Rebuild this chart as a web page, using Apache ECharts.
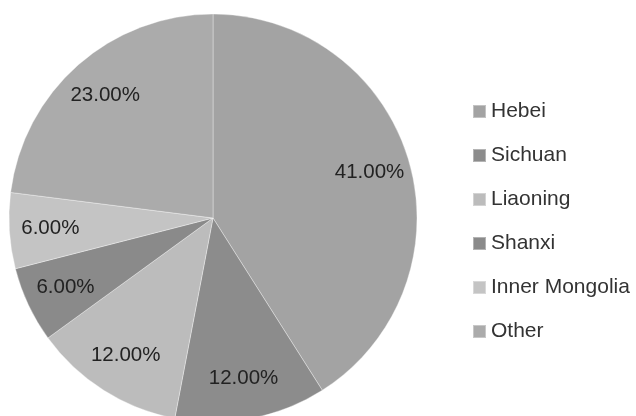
<!DOCTYPE html>
<html>
<head>
<meta charset="utf-8">
<script src="https://cdn.jsdelivr.net/npm/echarts@6/dist/echarts.min.js"></script>
<style>
  html, body { margin: 0; padding: 0; background: #ffffff; }
  #chart { width: 636px; height: 416px; }
</style>
</head>
<body>
<div id="chart"></div>
<script>
// Province shares (percent)
const provinces = ['Hebei', 'Sichuan', 'Liaoning', 'Shanxi', 'Inner Mongolia', 'Other'];
const shares = [41, 12, 12, 6, 6, 23];
const sliceColors = ['#a3a3a3', '#8c8c8c', '#bcbcbc', '#8a8a8a', '#c4c4c4', '#ababab'];

const pieData = provinces.map((name, i) => ({
  name: name,
  value: shares[i],
  itemStyle: { color: sliceColors[i] }
}));

const center = [213, 218];
const chart = echarts.init(document.getElementById('chart'), null, { renderer: 'canvas' });

chart.setOption({
  backgroundColor: '#ffffff',
  animation: false,
  color: sliceColors,
  legend: {
    data: provinces,
    orient: 'vertical',
    left: 467,
    top: 96,
    itemWidth: 13,
    itemHeight: 13,
    itemGap: 23,
    icon: 'rect',
    textStyle: {
      fontFamily: 'Liberation Sans, Arial, sans-serif',
      fontSize: 21,
      color: '#333333'
    }
  },
  series: [
    {
      // filled slices
      type: 'pie',
      center: center,
      radius: [0, 204],
      startAngle: 90,
      clockwise: true,
      label: { show: false },
      labelLine: { show: false },
      itemStyle: { borderColor: 'rgba(255,255,255,0.35)', borderWidth: 1 },
      data: pieData
    },
    {
      // percentage labels placed on a ring at ~0.78 of the radius
      type: 'pie',
      center: center,
      radius: [116, 204],
      startAngle: 90,
      clockwise: true,
      silent: true,
      legendHoverLink: false,
      itemStyle: { color: 'rgba(0,0,0,0)', borderWidth: 0 },
      labelLine: { show: false },
      label: {
        show: true,
        position: 'inside',
        formatter: (p) => p.value.toFixed(2) + '%',
        fontFamily: 'Liberation Sans, Arial, sans-serif',
        fontSize: 20.5,
        color: '#222222'
      },
      data: provinces.map((name, i) => ({ name: name, value: shares[i] }))
    }
  ]
});
</script>
</body>
</html>
